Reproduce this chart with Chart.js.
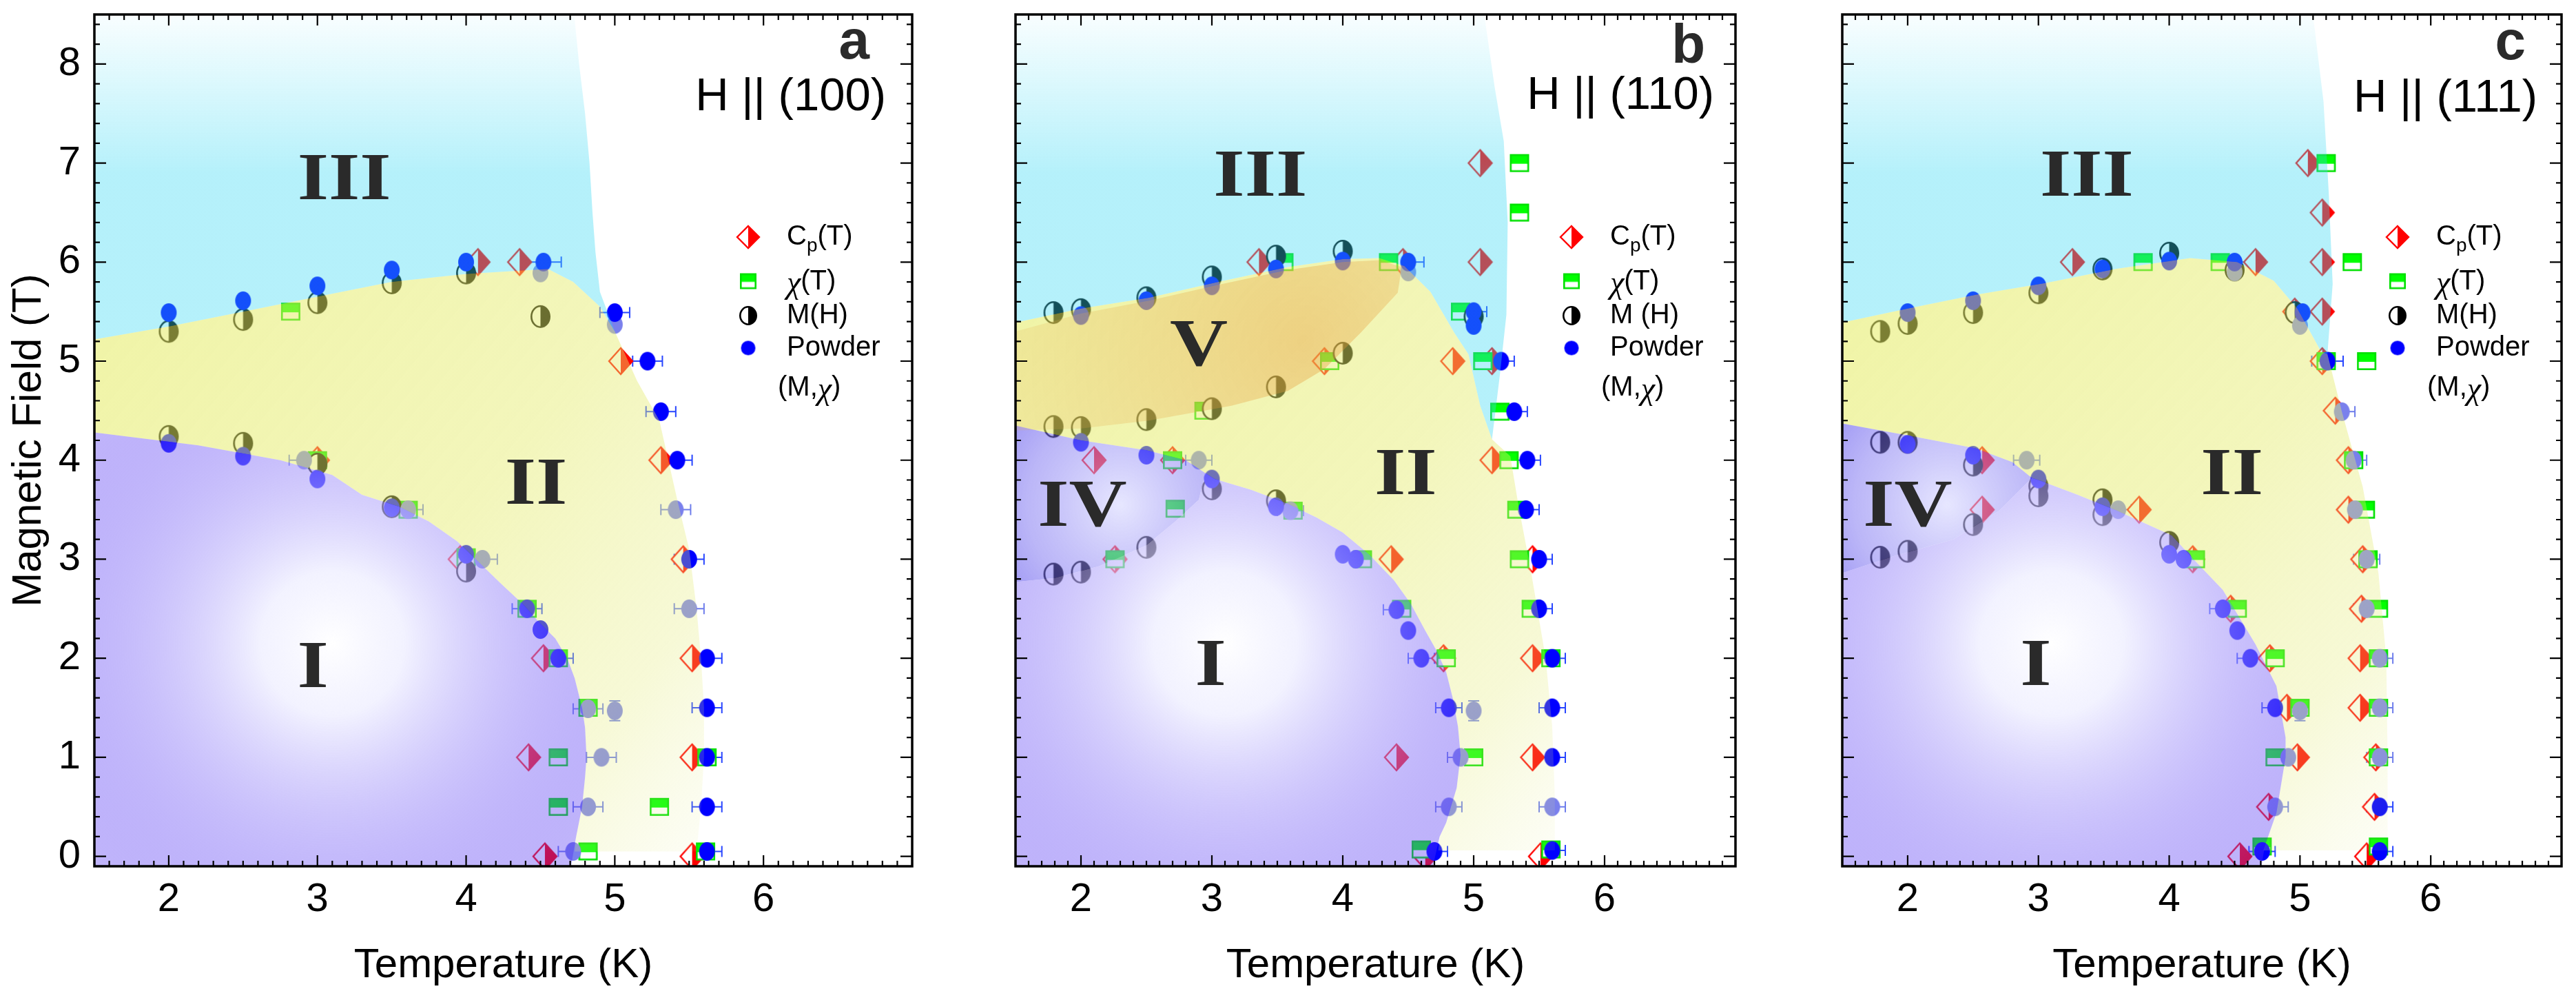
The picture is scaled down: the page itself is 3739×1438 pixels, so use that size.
<!DOCTYPE html>
<html><head><meta charset="utf-8">
<script src="https://cdn.jsdelivr.net/npm/chart.js@4.4.1/dist/chart.umd.min.js"></script>
<style>
html,body{margin:0;padding:0;background:#fff;width:3739px;height:1438px;overflow:hidden}
.p{position:absolute;top:0;height:1438px}
canvas{display:block}
</style></head><body>
<div class="p" style="left:0;width:1345px"><canvas id="ca" width="1345" height="1438"></canvas></div>
<div class="p" style="left:1330px;width:1210px"><canvas id="cb" width="1210" height="1438"></canvas></div>
<div class="p" style="left:2530px;width:1209px"><canvas id="cc" width="1209" height="1438"></canvas></div>
<script>
// ---------------- DATA ----------------
const xTicks = [2, 3, 4, 5, 6];
const yTicks = [0, 1, 2, 3, 4, 5, 6, 7, 8];
const xTitle = 'Temperature (K)';
const yTitle = 'Magnetic Field (T)';

// Panel a : H || (100)   [T, H]
const cpA  = [[4.08,6.0],[4.36,6.0],[5.04,5.0],[5.31,4.0],[3.0,4.0],[3.96,3.0],[4.52,2.0],[4.42,1.0],[4.53,0.0],[5.46,3.0],[5.52,2.0],[5.52,1.0],[5.52,0.0]];
const chiA = [[2.82,5.5],[3.0,4.0],[3.61,3.5],[4.0,3.02],[4.41,2.5],[4.62,2.0],[4.82,1.5],[4.62,1.0],[4.62,0.5],[4.82,0.05],[5.3,0.5],[5.62,1.0],[5.61,0.05]];
const mhA  = [[2.0,5.3],[2.5,5.42],[3.0,5.59],[3.5,5.79],[4.0,5.89],[4.5,5.45],[2.0,4.24],[2.5,4.17],[3.0,3.96],[3.5,3.53],[4.0,2.88]];
// powder [T, H, xErr, yErr]
const pwA  = [[2.0,5.49,0],[2.5,5.61,0],[3.0,5.76,0],[3.5,5.92,0],[4.0,6.0,0],[4.52,6.0,0.12],[5.0,5.49,0.1],[5.22,5.0,0.1],[5.31,4.49,0.1],[5.42,4.0,0.1],
              [2.0,4.17,0],[2.5,4.04,0],[3.0,3.81,0],[3.5,3.52,0],[4.0,3.05,0],[4.41,2.5,0.1],[4.5,2.29,0],[4.62,2.0,0.1],
              [5.5,3.0,0.1],[5.62,2.0,0.1],[5.62,1.5,0.1],[5.62,1.0,0.1],[5.62,0.5,0.1],[5.62,0.05,0.1]];
const pwLA = [[4.5,5.89,0],[5.0,5.37,0],[2.91,4.0,0.1],[3.61,3.5,0.1],[4.11,3.0,0.1],[4.82,1.49,0.1],[5.0,1.47,0,0.1],[4.91,1.0,0.1],[4.82,0.5,0.1],[4.72,0.05,0.1],[5.41,3.5,0.1],[5.5,2.5,0.1]];
// phase boundaries [T, H]
const bIIIA = [[1.5,5.22],[2.0,5.35],[2.5,5.5],[3.0,5.65],[3.5,5.8],[4.0,5.88],[4.55,5.93],[4.72,5.8],[4.9,5.55],[5.0,5.3]];
const eIIIA = [[5.0,5.3],[4.95,5.5],[4.9,5.7],[4.87,6.1],[4.85,6.5],[4.83,7.0],[4.8,7.5],[4.76,8.0],[4.72,8.6],[1.5,8.6]];
const eIIA  = [[5.0,5.3],[5.15,4.8],[5.3,4.4],[5.42,3.6],[5.5,3.1],[5.55,2.5],[5.58,2.0],[5.6,1.5],[5.6,1.0],[5.58,0.5],[5.55,0.05],[4.73,0.05]];
const bIA   = [[4.7,-0.15],[4.74,0.2],[4.78,0.5],[4.8,0.8],[4.81,1.0],[4.8,1.3],[4.78,1.5],[4.73,1.8],[4.68,2.0],[4.6,2.2],[4.5,2.35],[4.38,2.55],[4.23,2.76],[4.1,2.95],[3.94,3.18],[3.75,3.38],[3.55,3.53],[3.3,3.65],[3.1,3.85],[2.75,4.0],[2.2,4.15],[1.5,4.28]];
const romanA = [['III',3.18,6.86],['II',4.47,3.78],['I',2.97,1.93]];

// Panel b : H || (110)
const cpB  = [[3.36,6.0],[4.46,6.0],[5.05,7.0],[5.05,6.0],[4.84,5.0],[5.14,5.0],[3.86,5.0],[5.14,4.0],[2.1,4.0],[2.7,4.0],[2.26,3.0],[4.37,3.0],[4.77,2.0],[4.41,1.0],[4.63,0.0],[5.45,3.0],[5.45,2.0],[5.45,1.0],[5.51,0.0]];
const chiB = [[5.35,7.0],[5.35,6.5],[4.35,6.0],[3.55,6.0],[4.9,5.5],[5.07,5.0],[5.2,4.49],[5.27,4.0],[3.9,5.0],[2.94,4.5],[2.7,4.0],[2.72,3.51],[2.26,3.0],[3.62,3.49],[4.15,3.0],[4.45,2.5],[4.79,2.0],[5.0,1.0],[4.6,0.07],[5.33,3.5],[5.35,3.0],[5.44,2.5],[5.59,2.0],[5.59,0.07]];
const mhB  = [[1.79,5.49],[2.0,5.52],[2.5,5.64],[3.0,5.85],[3.49,6.06],[4.0,6.11],[1.79,4.34],[2.0,4.33],[2.5,4.41],[3.0,4.52],[3.49,4.74],[4.0,5.08],[5.0,5.45],[3.0,3.71],[3.49,3.59],[2.5,3.12],[1.79,2.85],[2.0,2.87]];
const pwB  = [[2.0,5.46,0],[2.5,5.61,0],[3.0,5.76,0],[3.49,5.93,0],[4.0,6.01,0],[4.5,6.0,0.12],[5.0,5.5,0.1],[5.0,5.36,0],[5.21,5.0,0.1],[5.31,4.49,0.1],[5.41,4.0,0.1],
              [2.0,4.18,0],[2.5,4.05,0],[3.0,3.81,0],[3.49,3.53,0],[4.0,3.05,0],[4.1,3.0,0],[4.41,2.49,0.1],[4.5,2.28,0],[4.6,2.0,0.1],[4.81,1.5,0.1],[4.7,0.05,0.1],
              [5.4,3.5,0.1],[5.5,3.0,0.1],[5.5,2.5,0.1],[5.6,2.0,0.1],[5.6,1.5,0.1],[5.6,1.0,0.1],[5.6,0.06,0.1]];
const pwLB = [[4.5,5.9,0],[2.9,4.0,0.1],[3.6,3.49,0.1],[5.0,1.47,0,0.1],[4.9,1.0,0.1],[4.81,0.5,0.1],[5.6,0.5,0.1]];
const bIIIB = [[1.5,5.39],[2.0,5.53],[2.52,5.64],[3.05,5.8],[3.58,5.95],[4.0,6.03],[4.28,6.04],[4.47,5.96],[4.67,5.7],[4.85,5.29],[4.96,5.07],[5.05,4.55],[5.14,4.21]];
const eIIIB = [[5.14,4.21],[5.2,4.86],[5.25,5.47],[5.26,6.4],[5.23,7.22],[5.16,7.77],[5.07,8.6],[1.5,8.6]];
const eIIB  = [[5.14,4.21],[5.28,4.04],[5.34,3.56],[5.44,2.86],[5.55,2.0],[5.6,1.31],[5.62,0.6],[5.62,0.06],[4.73,0.06]];
const bIB   = [[4.68,-0.15],[4.74,0.2],[4.79,0.34],[4.87,0.69],[4.9,1.02],[4.88,1.31],[4.84,1.6],[4.79,1.86],[4.72,2.07],[4.63,2.28],[4.52,2.55],[4.39,2.79],[4.2,3.05],[4.0,3.27],[3.8,3.42],[3.58,3.56],[3.3,3.7],[3.02,3.81],[2.95,3.87]];
const tIVB  = [[2.95,3.87],[2.8,4.0],[2.5,4.1],[2.0,4.2],[1.5,4.35]];
const lIVB  = [[2.95,3.87],[2.9,3.6],[2.72,3.38],[2.5,3.14],[2.14,2.93],[1.8,2.81],[1.5,2.77]];
const bVB   = [[1.5,5.3],[2.0,5.48],[2.52,5.61],[3.05,5.77],[3.58,5.92],[4.0,6.0],[4.28,6.02],[4.45,5.95],[4.42,5.69],[4.14,5.29],[3.86,4.92],[3.58,4.7],[3.15,4.55],[2.52,4.4],[2.0,4.32],[1.5,4.3]];
const romanB = [['III',3.37,6.89],['V',2.9,5.18],['IV',2.01,3.56],['II',4.48,3.88],['I',2.99,1.95]];

// Panel c : H || (111)
const cpC  = [[3.26,6.0],[4.66,6.0],[5.06,7.0],[5.17,6.5],[5.17,6.0],[5.17,5.5],[4.96,5.5],[5.17,5.0],[5.27,4.5],[5.37,4.0],[2.57,4.0],[2.57,3.5],[3.77,3.5],[4.18,3.0],[4.47,2.5],[4.77,2.0],[4.9,1.5],[4.98,1.0],[4.76,0.5],[4.54,0.0],
              [5.37,3.5],[5.48,3.0],[5.47,2.5],[5.46,2.0],[5.46,1.5],[5.58,1.0],[5.57,0.5],[5.51,0.0]];
const chiC = [[5.2,7.0],[5.4,6.0],[5.51,5.0],[3.8,6.0],[4.39,6.0],[5.2,5.0],[5.41,4.0],[4.2,3.0],[4.52,2.5],[4.81,2.0],[5.0,1.5],[4.81,1.0],[4.71,0.1],[5.5,3.5],[5.52,3.0],[5.6,2.5],[5.6,2.0],[5.6,1.5],[5.6,1.0],[5.6,0.1]];
const mhC  = [[1.79,5.3],[2.0,5.38],[2.5,5.49],[3.0,5.69],[3.49,5.93],[4.0,6.09],[4.5,5.92],[4.96,5.49],[1.79,4.18],[2.0,4.18],[2.5,3.95],[3.0,3.74],[3.0,3.64],[3.49,3.6],[3.49,3.45],[2.5,3.35],[1.79,3.02],[2.0,3.08],[4.0,3.17]];
const pwC  = [[2.0,5.49,0],[2.5,5.61,0],[3.0,5.76,0],[3.49,5.93,0],[4.0,6.01,0],[4.5,6.0,0.12],[5.02,5.49,0.12],[5.21,5.0,0.12],
              [2.0,4.16,0],[2.5,4.05,0],[3.0,3.81,0],[3.49,3.53,0],[4.0,3.05,0],[4.11,3.0,0],[4.41,2.5,0.1],[4.52,2.28,0],[4.62,2.0,0.1],[4.81,1.5,0.1],[4.71,0.05,0.1],[5.61,0.5,0.1],[5.61,0.05,0.1]];
const pwLC = [[4.5,5.9,0],[5.0,5.36,0],[5.32,4.49,0.1],[5.41,4.0,0.1],[2.91,4.0,0.1],[3.61,3.5,0.1],[5.0,1.47,0,0.1],[4.91,1.0,0.1],[4.81,0.5,0.1],
              [5.42,3.5,0.1],[5.51,3.0,0.1],[5.51,2.5,0.1],[5.61,2.0,0.1],[5.61,1.5,0.1],[5.61,1.0,0.1]];
const bIIIC = [[1.5,5.39],[2.0,5.53],[2.52,5.67],[3.06,5.79],[3.59,5.93],[4.16,6.04],[4.52,6.0],[4.8,5.81],[4.98,5.53],[5.16,5.1],[5.21,5.07]];
const eIIIC = [[5.21,5.07],[5.25,5.78],[5.22,6.7],[5.18,7.62],[5.09,8.6],[1.5,8.6]];
const eIIC  = [[5.21,5.07],[5.32,4.49],[5.48,3.73],[5.6,2.86],[5.66,2.0],[5.67,0.98],[5.67,0.06],[4.72,0.06]];
const bIC   = [[4.7,-0.15],[4.73,0.1],[4.82,0.44],[4.89,1.0],[4.89,1.2],[4.82,1.72],[4.66,2.14],[4.41,2.69],[4.2,2.98],[4.02,3.24],[3.6,3.49],[3.3,3.65],[3.02,3.79],[2.95,3.82]];
const tIVC  = [[2.95,3.82],[2.8,3.98],[2.52,4.12],[2.0,4.25],[1.5,4.37]];
const lIVC  = [[2.95,3.82],[2.7,3.49],[2.35,3.2],[1.89,3.03],[1.5,2.86]];
const romanC = [['III',3.37,6.89],['IV',2.0,3.56],['II',4.48,3.88],['I',2.98,1.95]];

// ---------------- STYLE ----------------
const FONT = '"Liberation Sans", Arial, sans-serif';
const ST = {
  III: {kind:'lin', p0:[3,8.5], p1:[3,6.9], stops:[[0,'rgba(54,216,243,0.03)'],[1,'rgba(54,216,243,0.37)']]},
  II:  {kind:'lin', p0:[1.5,5.3], p1:[5.65,0.1], stops:[[0,'rgba(228,235,95,0.55)'],[0.5,'rgba(228,235,105,0.45)'],[0.8,'rgba(228,235,120,0.3)'],[1,'rgba(228,235,140,0.08)']]},
  I:   {kind:'rad', c:[3.1,2.15], r:520, stops:[[0,'rgba(255,255,255,0.95)'],[0.2,'rgba(238,238,255,0.75)'],[1,'rgba(40,0,240,0.27)']]},
  IV:  {kind:'rad', c:[2.3,3.55], r:270, stops:[[0,'rgba(215,215,255,0.6)'],[0.5,'rgba(120,110,240,0.5)'],[1,'rgba(40,25,230,0.6)']]},
  V:   {kind:'rad', c:[3.7,5.2], r:420, stops:[[0,'rgba(230,150,50,0.38)'],[1,'rgba(230,175,80,0.18)']]}
};

function mk(w,h,draw){const c=document.createElement('canvas');c.width=w+4;c.height=h+4;const g=c.getContext('2d');g.translate(2,2);draw(g,w,h);return c;}
function diamondImg(w,h){return mk(w,h,(g,w,h)=>{g.beginPath();g.moveTo(w/2,1);g.lineTo(w-1,h/2);g.lineTo(w/2,h-1);g.lineTo(1,h/2);g.closePath();
  g.fillStyle='#fff';g.fill();g.save();g.clip();g.fillStyle='#ff0000';g.fillRect(w/2,0,w/2,h);g.restore();g.strokeStyle='#ff0000';g.lineWidth=2.4;g.stroke();});}
function squareImg(w,h){return mk(w,h,(g,w,h)=>{g.fillStyle='#fff';g.fillRect(1,1,w-2,h-2);g.fillStyle='#00ff00';g.fillRect(1,1,w-2,h/2);
  g.strokeStyle='#00e000';g.lineWidth=2.6;g.strokeRect(1.3,1.3,w-2.6,h-2.6);});}
function halfImg(w,h){return mk(w,h,(g,w,h)=>{g.beginPath();g.ellipse(w/2,h/2,w/2-1.3,h/2-1.3,0,0,Math.PI*2);g.fillStyle='#fff';g.fill();
  g.save();g.clip();g.fillStyle='#000';g.fillRect(w/2,0,w/2,h);g.restore();g.strokeStyle='#000';g.lineWidth=2.6;g.stroke();});}
function dotImg(w,h,col){return mk(w,h,(g,w,h)=>{g.beginPath();g.ellipse(w/2,h/2,w/2,h/2,0,0,Math.PI*2);g.fillStyle=col;g.fill();});}

const IMG = {cp:diamondImg(36,40), chi:squareImg(28,26), mh:halfImg(29,33), pw:dotImg(23,27,'#0000ff'), pwL:dotImg(23,27,'rgb(122,128,236)')};
const LEG = {cp:diamondImg(34,34), chi:squareImg(24,23), mh:halfImg(26,28), pw:dotImg(21,21,'#0000ff')};

function gradFn(st){
  return function(c){
    const ch=c.chart; if(!ch.chartArea) return 'rgba(0,0,0,0)';
    const xs=ch.scales.x, ys=ch.scales.y, g=ch.ctx; let gr;
    if(st.kind==='lin'){gr=g.createLinearGradient(xs.getPixelForValue(st.p0[0]),ys.getPixelForValue(st.p0[1]),xs.getPixelForValue(st.p1[0]),ys.getPixelForValue(st.p1[1]));}
    else{const cx=xs.getPixelForValue(st.c[0]),cy=ys.getPixelForValue(st.c[1]);gr=g.createRadialGradient(cx,cy,0,cx,cy,st.r);}
    st.stops.forEach(s=>gr.addColorStop(s[0],s[1]));
    return gr;
  };
}
const toXY = p => ({x:p[0], y:p[1]});

// ---------------- PLUGINS ----------------
const errBars = {id:'errBars', beforeDatasetsDraw(ch){
  const g=ch.ctx,a=ch.chartArea,xs=ch.scales.x,ys=ch.scales.y;
  g.save();g.beginPath();g.rect(a.left,a.top,a.width,a.height);g.clip();
  ch.data.datasets.forEach(ds=>{ if(!ds.src||!ds.errColor) return;
    g.strokeStyle=ds.errColor;g.lineWidth=2;g.beginPath();
    ds.src.forEach(p=>{const px=xs.getPixelForValue(p[0]),py=ys.getPixelForValue(p[1]);
      if(p[2]){const l=xs.getPixelForValue(p[0]-p[2]),r=xs.getPixelForValue(p[0]+p[2]);
        g.moveTo(l,py);g.lineTo(r,py);g.moveTo(l,py-8);g.lineTo(l,py+8);g.moveTo(r,py-8);g.lineTo(r,py+8);}
      if(p[3]){const t=ys.getPixelForValue(p[1]+p[3]),b=ys.getPixelForValue(p[1]-p[3]);
        g.moveTo(px,t);g.lineTo(px,b);g.moveTo(px-8,t);g.lineTo(px+8,t);g.moveTo(px-8,b);g.lineTo(px+8,b);}
    });g.stroke();});
  g.restore();}};

const frame = {id:'frame', afterDatasetsDraw(ch){
  const g=ch.ctx,a=ch.chartArea,xs=ch.scales.x,ys=ch.scales.y;
  g.save();g.strokeStyle='#000';g.lineWidth=2.2;g.beginPath();
  for(let i=16;i<70;i++){const v=i/10,px=xs.getPixelForValue(v),L=(i%10===0)?16:8;
    g.moveTo(px,a.bottom);g.lineTo(px,a.bottom-L);g.moveTo(px,a.top);g.lineTo(px,a.top+L);}
  for(let i=0;i<=42;i++){const v=i/5,py=ys.getPixelForValue(v),L=(i%5===0)?17:8;
    g.moveTo(a.left,py);g.lineTo(a.left+L,py);g.moveTo(a.right,py);g.lineTo(a.right-L,py);}
  g.stroke();g.lineWidth=3.5;g.strokeRect(a.left,a.top,a.width,a.height);g.restore();}};

function annot(P){return {id:'annot', afterDraw(ch){
  const g=ch.ctx,a=ch.chartArea,xs=ch.scales.x,ys=ch.scales.y;
  g.save();
  g.fillStyle='#2a2a2a';g.font='bold 97px "Liberation Serif", "Times New Roman", serif';g.textAlign='center';g.textBaseline='alphabetic';
  P.roman.forEach(r=>{const px=xs.getPixelForValue(r[1]),py=ys.getPixelForValue(r[2]);g.save();g.translate(px,py+32);g.scale(1.2,1);g.fillText(r[0],0,0);g.restore();});
  g.textAlign='right';g.font='bold 80px '+FONT;g.fillStyle='#2a2a2a';g.fillText(P.letter,a.right-P.ldx,P.ly);
  g.font='67px '+FONT;g.fillStyle='#000';g.fillText(P.orient,a.right-P.odx,P.oy);
  // legend
  const mx=a.right-238, tx=a.right-182;
  const rows=[['cp',344],['chi',408],['mh',458],['pw',505]];
  rows.forEach(r=>{const im=LEG[r[0]];g.drawImage(im,mx-im.width/2,r[1]-im.height/2);});
  g.textAlign='left';g.textBaseline='middle';g.fillStyle='#000';
  let x=tx; g.font='40px '+FONT; g.fillText('C',x,344); x+=g.measureText('C').width;
  g.font='28px '+FONT; g.fillText('p',x,357); x+=g.measureText('p').width;
  g.font='40px '+FONT; g.fillText('(T)',x,344);
  x=tx; g.font='italic 46px "Liberation Serif", serif'; g.fillText('\u03C7',x,413); x+=g.measureText('\u03C7').width;
  g.font='40px '+FONT; g.fillText('(T)',x,409);
  g.fillText(P.mhText,tx,458); g.fillText('Powder',tx,505);
  x=a.right-195; g.fillText('(M,',x,563); x+=g.measureText('(M,').width;
  g.font='italic 46px "Liberation Serif", serif'; g.fillText('\u03C7',x,567); x+=g.measureText('\u03C7').width;
  g.font='40px '+FONT; g.fillText(')',x,563);
  g.restore();}};}

// ---------------- BUILD ----------------
// join boundary pieces that share their junction point
function poly(...parts){const out=[];parts.forEach((p,i)=>p.forEach((q,j)=>{if(i>0&&j===0)return;out.push(q);}));return out;}
const rev = a => a.slice().reverse();
const corner = [[1.5,-0.15]];

const panels = [
  {id:'ca', first:true, pad:{left:0,right:15,top:7,bottom:0}, cp:cpA, chi:chiA, mh:mhA, pw:pwA, pwL:pwLA, roman:romanA,
   letter:'a', ldx:62, ly:85, orient:'H || (100)', odx:38, oy:160, mhText:'M(H)',
   regions:[{poly:poly(bIIIA,eIIIA),st:ST.III,order:4},{poly:poly(bIIIA,eIIA,bIA),st:ST.II,order:4},
            {poly:rev(bIA).concat(corner),st:ST.I,order:3}]},
  {id:'cb', first:false, pad:{left:7,right:12,top:7,bottom:0}, cp:cpB, chi:chiB, mh:mhB, pw:pwB, pwL:pwLB, roman:romanB,
   letter:'b', ldx:44, ly:91, orient:'H || (110)', odx:31, oy:158, mhText:'M (H)',
   regions:[{poly:poly(bIIIB,eIIIB),st:ST.III,order:4},{poly:poly(bIIIB,eIIB,bIB,tIVB),st:ST.II,order:4},
            {poly:poly(rev(lIVB),rev(bIB)).concat(corner),st:ST.I,order:3},
            {poly:tIVB.concat(rev(lIVB)),st:ST.IV,order:3},{poly:bVB,st:ST.V,order:2}]},
  {id:'cc', first:false, pad:{left:7,right:9,top:7,bottom:0}, cp:cpC, chi:chiC, mh:mhC, pw:pwC, pwL:pwLC, roman:romanC,
   letter:'c', ldx:52, ly:86, orient:'H || (111)', odx:35, oy:162, mhText:'M(H)',
   regions:[{poly:poly(bIIIC,eIIIC),st:ST.III,order:4},{poly:poly(bIIIC,eIIC,bIC,tIVC),st:ST.II,order:4},
            {poly:poly(rev(lIVC),rev(bIC)).concat(corner),st:ST.I,order:3},
            {poly:tIVC.concat(rev(lIVC)),st:ST.IV,order:3}]}
];

function noPad(s){s.paddingTop=0;s.paddingBottom=0;s.paddingLeft=0;s.paddingRight=0;}

panels.forEach(P=>{
  const ds=[];
  P.regions.forEach(r=>ds.push({type:'line',data:r.poly.map(toXY),fill:'shape',backgroundColor:gradFn(r.st),borderColor:'rgba(0,0,0,0)',borderWidth:0,pointRadius:0,tension:0,order:r.order}));
  ds.push({type:'scatter',data:P.cp.map(toXY),pointStyle:IMG.cp,pointRadius:20,order:14});
  ds.push({type:'scatter',data:P.chi.map(toXY),pointStyle:IMG.chi,pointRadius:14,order:13});
  ds.push({type:'scatter',data:P.mh.map(toXY),pointStyle:IMG.mh,pointRadius:16,order:12});
  ds.push({type:'scatter',data:P.pwL.map(toXY),src:P.pwL,errColor:'rgb(110,125,235)',pointStyle:IMG.pwL,pointRadius:13,order:11});
  ds.push({type:'scatter',data:P.pw.map(toXY),src:P.pw,errColor:'rgb(40,70,255)',pointStyle:IMG.pw,pointRadius:13,order:10});
  new Chart(document.getElementById(P.id),{
    type:'scatter',
    data:{datasets:ds},
    options:{
      responsive:false, animation:false, events:[], devicePixelRatio:1,
      layout:{padding:P.pad},
      plugins:{legend:{display:false},tooltip:{enabled:false}},
      scales:{
        x:{type:'linear',min:1.5,max:7,position:'bottom',
           afterBuildTicks:s=>{s.ticks=xTicks.map(v=>({value:v}));},
           afterFit:s=>{s.height=181;noPad(s);},
           grid:{display:false,drawTicks:false},border:{display:false},
           ticks:{font:{family:FONT,size:58},color:'#000',padding:14,maxRotation:0,autoSkip:false,callback:v=>String(v)},
           title:{display:true,text:xTitle,font:{family:FONT,size:60},color:'#000',padding:{top:0,bottom:1}}},
        y:{type:'linear',min:-0.1,max:8.5,position:'left',display:P.first,
           afterBuildTicks:s=>{s.ticks=yTicks.map(v=>({value:v}));},
           afterFit:s=>{s.width=137;noPad(s);},
           grid:{display:false,drawTicks:false},border:{display:false},
           ticks:{font:{family:FONT,size:58},color:'#000',padding:20,autoSkip:false,callback:v=>String(v)},
           title:{display:true,text:yTitle,font:{family:FONT,size:60},color:'#000',padding:{top:6,bottom:0}}}
      }
    },
    plugins:[errBars,frame,annot(P)]
  });
});
</script>
</body></html>
